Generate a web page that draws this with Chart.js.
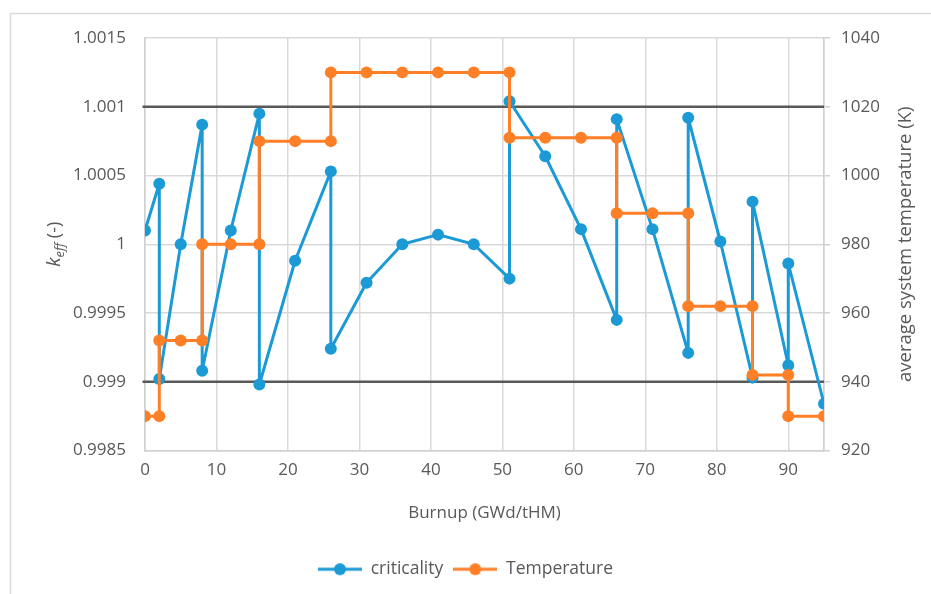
<!DOCTYPE html>
<html>
<head>
<meta charset="utf-8">
<script src="https://cdn.jsdelivr.net/npm/chart.js@4.4.1/dist/chart.umd.min.js"></script>
<style>
  html, body { margin: 0; padding: 0; background: #fff; }
  #wrap { width: 931px; height: 594px; }
</style>
</head>
<body>
<div id="wrap"><canvas id="chart" width="931" height="594"></canvas></div>
<script>
// burnup steps (GWd/tHM), repeated where both values change at the same step
const burnup = [0, 2, 2, 5, 8, 8, 12, 16, 16, 21, 26, 26, 31, 36, 41, 46, 51, 51, 56, 61, 66, 66, 71, 76, 76, 80.5, 85, 85, 90, 90, 95];
const criticality = [1.0001, 1.00044, 0.99902, 1.0, 1.00087, 0.99908, 1.0001, 1.00095, 0.99898, 0.99988, 1.00053, 0.99924,
  0.99972, 1.0, 1.00007, 1.0, 0.99975, 1.00104, 1.00064, 1.00011, 0.99945, 1.00091, 1.00011, 0.99921, 1.00092,
  1.00002, 0.99903, 1.00031, 0.99912, 0.99986, 0.99884];
const temperature = [930, 930, 952, 952, 952, 980, 980, 980, 1010, 1010, 1010, 1030, 1030, 1030, 1030, 1030, 1030,
  1011, 1011, 1011, 1011, 989, 989, 989, 962, 962, 962, 942, 942, 930, 930];
// limit lines for keff
const limitX = [-0.35, 95];
const upperLimit = [1.001, 1.001];
const lowerLimit = [0.999, 0.999];

const blue = '#1c9ad6';
const orange = '#ff7f27';
const textColor = '#595959';
const font = '"Open Sans", "Noto Sans", sans-serif';

function pts(xs, ys) {
  return xs.map((x, i) => ({ x: x, y: ys[i] }));
}

// little line+marker image for the legend
function legendIcon(color) {
  const c = document.createElement('canvas');
  c.width = 44; c.height = 14;
  const g = c.getContext('2d');
  g.strokeStyle = color; g.lineWidth = 3;
  g.beginPath(); g.moveTo(0, 7); g.lineTo(44, 7); g.stroke();
  g.fillStyle = color;
  g.beginPath(); g.arc(22, 7, 6, 0, Math.PI * 2); g.fill();
  return c;
}
const icons = [legendIcon(blue), legendIcon(orange)];

const extras = {
  id: 'extras',
  beforeDraw(chart) {
    const ctx = chart.ctx;
    ctx.save();
    ctx.strokeStyle = '#d9d9d9';
    ctx.lineWidth = 1.5;
    ctx.beginPath();
    ctx.moveTo(10.5, 600); ctx.lineTo(10.5, 13.5); ctx.lineTo(935, 13.5);
    ctx.stroke();
    ctx.restore();
  },
  afterDraw(chart) {
    const ctx = chart.ctx;
    const area = chart.chartArea;
    const cy = (area.top + area.bottom) / 2;
    ctx.save();
    ctx.fillStyle = textColor;
    ctx.textBaseline = 'alphabetic';
    // left title: k_eff (-)
    ctx.translate(60, cy);
    ctx.rotate(-Math.PI / 2);
    const f1 = 'italic 19px ' + font, f2 = 'italic 13px ' + font, f3 = '18px ' + font;
    ctx.font = f1; const w1 = ctx.measureText('k').width;
    ctx.font = f2; const w2 = ctx.measureText('eff').width;
    ctx.font = f3; const w3 = ctx.measureText(' (-)').width;
    let x = -(w1 + w2 + w3) / 2;
    ctx.font = f1; ctx.fillText('k', x, 0); x += w1;
    ctx.font = f2; ctx.fillText('eff', x, 4); x += w2;
    ctx.font = f3; ctx.fillText(' (-)', x, 0);
    ctx.restore();
    // right title
    ctx.save();
    ctx.fillStyle = textColor;
    ctx.font = '18.5px ' + font;
    ctx.textAlign = 'center';
    ctx.textBaseline = 'middle';
    ctx.translate(906, cy);
    ctx.rotate(-Math.PI / 2);
    ctx.fillText('average system temperature (K)', 0, 0);
    ctx.restore();
  }
};

const fmt = v => String(parseFloat(Number(v).toFixed(4)));

new Chart(document.getElementById('chart'), {
  type: 'scatter',
  data: {
    datasets: [
      {
        label: 'criticality',
        data: pts(burnup, criticality),
        yAxisID: 'y',
        showLine: true,
        borderColor: blue,
        backgroundColor: blue,
        borderWidth: 3,
        borderJoinStyle: 'round',
        pointRadius: 6,
        pointBorderWidth: 0,
        order: 1
      },
      {
        label: 'Temperature',
        data: pts(burnup, temperature),
        yAxisID: 'y1',
        showLine: true,
        borderColor: orange,
        backgroundColor: orange,
        borderWidth: 3,
        borderJoinStyle: 'round',
        pointRadius: 6,
        pointBorderWidth: 0,
        order: 0
      },
      {
        data: pts(limitX, upperLimit),
        yAxisID: 'y',
        showLine: true,
        borderColor: '#595959',
        borderWidth: 2.5,
        pointRadius: 0,
        clip: false,
        order: 2
      },
      {
        data: pts(limitX, lowerLimit),
        yAxisID: 'y',
        showLine: true,
        borderColor: '#595959',
        borderWidth: 2.5,
        pointRadius: 0,
        clip: false,
        order: 2
      }
    ]
  },
  options: {
    responsive: false,
    animation: false,
    layout: { padding: { top: 38, left: 0, right: 0, bottom: 6 } },
    scales: {
      x: {
        type: 'linear',
        min: 0, max: 95,
        ticks: {
          stepSize: 10,
          color: textColor,
          font: { family: font, size: 17 },
          padding: 9,
          callback: v => (v % 10 === 0 ? String(v) : '')
        },
        grid: { color: '#d9d9d9', lineWidth: 1.5, drawTicks: false },
        border: { color: '#d0d0d0', width: 1.5 },
        title: {
          display: true,
          text: 'Burnup (GWd/tHM)',
          color: textColor,
          font: { family: font, size: 17 },
          padding: { top: 0, bottom: 27 }
        },
        afterFit: s => { s.height = 100; }
      },
      y: {
        position: 'left',
        min: 0.9985, max: 1.0015,
        ticks: {
          stepSize: 0.0005,
          color: textColor,
          font: { family: font, size: 17 },
          padding: 19,
          callback: fmt
        },
        grid: { color: '#d9d9d9', lineWidth: 1.5, drawTicks: false },
        border: { color: '#d0d0d0', width: 1.5 },
        afterFit: s => { s.width = 145; }
      },
      y1: {
        position: 'right',
        min: 920, max: 1040,
        ticks: {
          stepSize: 20,
          color: textColor,
          font: { family: font, size: 17 },
          padding: 11,
          callback: v => String(v)
        },
        grid: { drawOnChartArea: false, color: '#d0d0d0', lineWidth: 1.5, tickLength: 6 },
        border: { color: '#d0d0d0', width: 1.5 },
        afterFit: s => { s.width = 107; }
      }
    },
    plugins: {
      legend: {
        position: 'bottom',
        labels: {
          color: textColor,
          font: { family: font, size: 17.5 },
          usePointStyle: true,
          pointStyleWidth: 44,
          boxHeight: 14,
          padding: 10,
          filter: item => !!item.text,
          sort: (a, b) => a.datasetIndex - b.datasetIndex,
          generateLabels: chart => {
            const items = Chart.defaults.plugins.legend.labels.generateLabels(chart);
            items.forEach(it => {
              if (it.datasetIndex < 2) it.pointStyle = icons[it.datasetIndex];
            });
            return items;
          }
        }
      },
      tooltip: { enabled: false }
    }
  },
  plugins: [extras]
});
</script>
</body>
</html>
